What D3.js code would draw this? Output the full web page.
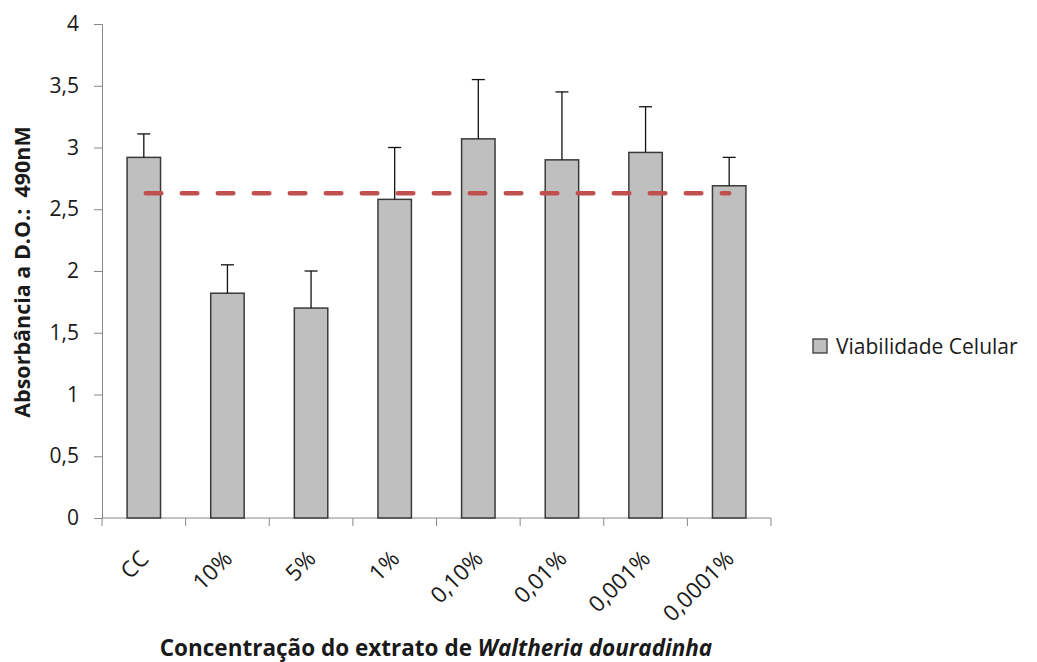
<!DOCTYPE html>
<html>
<head>
<meta charset="utf-8">
<script src="https://cdn.jsdelivr.net/npm/d3@7"></script>
<style>
  body { margin: 0; background: #fff; }
  text { font-family: "Open Sans", sans-serif; fill: #1a1a1a; }
</style>
</head>
<body>
<svg class="main" width="1037" height="662"></svg>
<script>
const categories = ["CC", "10%", "5%", "1%", "0,10%", "0,01%", "0,001%", "0,0001%"];
const values = [2.92, 1.82, 1.70, 2.58, 3.07, 2.90, 2.96, 2.69];
const errorTops = [3.11, 2.05, 2.00, 3.00, 3.55, 3.45, 3.33, 2.92];
const referenceLevel = 2.63;
const yTicks = [0, 0.5, 1, 1.5, 2, 2.5, 3, 3.5, 4];

const svg = d3.select(".main");
const margin = { left: 102, right: 266, top: 24, bottom: 144 };
const width = 1037 - margin.left - margin.right;
const height = 662 - margin.top - margin.bottom;

const g = svg.append("g").attr("transform", `translate(${margin.left},${margin.top})`);

const x = d3.scaleBand().domain(categories).range([0, width]).paddingInner(0.6).paddingOuter(0.3);
const y = d3.scaleLinear().domain([0, 4]).range([height, 0]);
const fmt = d => String(d).replace(".", ",");

// y axis
const yAxis = g.append("g")
  .call(d3.axisLeft(y).tickValues(yTicks).tickFormat(fmt).tickSize(8).tickPadding(15));
yAxis.select(".domain").attr("stroke", "#888");
yAxis.selectAll(".tick line").attr("stroke", "#888");
yAxis.selectAll(".tick text").attr("font-size", 21).attr("fill", "#1a1a1a")
  .style("font-family", "'Open Sans', sans-serif");

// x axis, ticks sit between categories
const xb = g.append("g").attr("transform", `translate(0,${height})`);
xb.append("line").attr("x1", 0).attr("x2", width).attr("stroke", "#888");
d3.range(categories.length + 1).forEach(i => {
  const tx = i * (width / categories.length);
  xb.append("line").attr("x1", tx).attr("x2", tx)
    .attr("y1", 0).attr("y2", 8).attr("stroke", "#888");
});
categories.forEach(c => {
  const cx = x(c) + x.bandwidth() / 2;
  xb.append("text")
    .attr("transform", `translate(${cx - 5},${31}) rotate(-45)`)
    .attr("text-anchor", "end")
    .attr("dy", "0.7em")
    .attr("font-size", 22.5)
    .text(c);
});

// bars
g.selectAll("rect.bar").data(categories).join("rect")
  .attr("class", "bar")
  .attr("x", d => x(d))
  .attr("width", x.bandwidth())
  .attr("y", (d, i) => y(values[i]))
  .attr("height", (d, i) => y(0) - y(values[i]))
  .attr("fill", "#bfbfbf")
  .attr("stroke", "#3a3a3a")
  .attr("stroke-width", 1.5);

// error bars (upper only)
categories.forEach((c, i) => {
  const cx = x(c) + x.bandwidth() / 2;
  g.append("line").attr("x1", cx).attr("x2", cx)
    .attr("y1", y(values[i])).attr("y2", y(errorTops[i]))
    .attr("stroke", "#111").attr("stroke-width", 1.3);
  g.append("line").attr("x1", cx - 6.5).attr("x2", cx + 6.5)
    .attr("y1", y(errorTops[i])).attr("y2", y(errorTops[i]))
    .attr("stroke", "#111").attr("stroke-width", 1.3);
});

// reference dashed line
const first = categories[0], last = categories[categories.length - 1];
g.append("line")
  .attr("x1", x(first) + x.bandwidth() / 2 + 2)
  .attr("x2", x(last) + x.bandwidth() / 2)
  .attr("y1", y(referenceLevel)).attr("y2", y(referenceLevel))
  .attr("stroke", "#c0504d")
  .attr("stroke-width", 4.5)
  .attr("stroke-linecap", "round")
  .attr("stroke-dasharray", "15.5 20.5");

// axis titles
svg.append("text")
  .attr("transform", "translate(30,272) rotate(-90)")
  .attr("text-anchor", "middle")
  .attr("font-size", 21.5)
  .attr("font-weight", "bold")
  .style("white-space", "pre")
  .text("Absorbância a D.O.:  490nM");

const xt = svg.append("text")
  .attr("x", 436).attr("y", 656)
  .attr("text-anchor", "middle")
  .attr("font-size", 22.5)
  .attr("font-weight", "bold");
xt.append("tspan").style("white-space", "pre").text("Concentração do extrato de ");
xt.append("tspan").attr("font-style", "italic").text("Waltheria douradinha");

// legend
const lg = svg.append("g").attr("transform", "translate(813,339)");
lg.append("rect").attr("width", 14).attr("height", 14)
  .attr("fill", "#bfbfbf").attr("stroke", "#3a3a3a").attr("stroke-width", 1.3);
lg.append("text").attr("x", 23).attr("y", 15).attr("font-size", 21).text("Viabilidade Celular");
</script>
</body>
</html>
